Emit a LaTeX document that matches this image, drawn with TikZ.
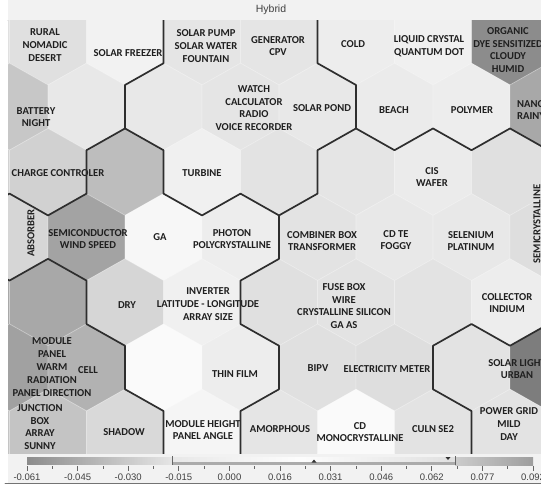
\documentclass[tikz,border=0pt]{standalone}
\usepackage{fontspec}
\newfontfamily\lblfont{Carlito}[BoldFont={Carlito Bold}]
\newfontfamily\barfont{Liberation Sans}
\begin{document}
\begin{tikzpicture}[x=1pt,y=-1pt,line join=round,line cap=round,
  lbl/.style={font=\lblfont\bfseries\fontsize{10.6}{12.8}\selectfont,align=center,text=black!88,inner sep=0pt},
  hexcell/.style={draw=white,draw opacity=0.25,line width=0.8pt},
  border/.style={draw=black!82,line width=1.7pt},
  barlbl/.style={font=\barfont\fontsize{9.5}{11}\selectfont,text=black!75,inner sep=0pt},
  tickmark/.style={draw=black!60,line width=0.7pt,line cap=butt}]
\def\hexw{77}
\def\hexhw{38.5}
\def\hexhh{21.75}
\def\hextop{43.5}
\def\rowdy{65.2}
\useasboundingbox (0,0) rectangle (541,485);
\fill[white] (0,0) rectangle (541,485);
\fill[black!5] (8,0) rectangle (541,20);
\draw[black!30,line width=0.8pt] (8,20) -- (541,20);
\node[font=\barfont\fontsize{10.5}{12}\selectfont,text=black!75] (title) at (271,10) {Hybrid};
\fill[black!5] (8,453) rectangle (541,483);
\begin{scope}
\clip (8,20) rectangle (541,453);
\fill[black!10] (8,20) rectangle (541,453);
\foreach \r/\i/\k in {1/-1/12,1/0/12,1/1/5,1/2/10,1/3/10,1/4/7,1/5/6,1/6/45,
    2/0/22,2/1/9,2/2/9,2/3/10,2/4/9,2/5/8,2/6/7,2/7/34,
    3/-1/18,3/0/18,3/1/26,3/2/6,3/3/11,3/4/10,3/5/8,3/6/12,
    4/0/16,4/1/36,4/2/3,4/3/7,4/4/11,4/5/9,4/6/9,4/7/13,
    5/-1/34,5/0/34,5/1/16,5/2/6,5/3/12,5/4/11,5/5/11,5/6/7,
    6/0/37,6/1/30,6/2/2,6/3/7,6/4/12,6/5/13,6/6/11,6/7/51,
    7/-1/23,7/0/23,7/1/15,7/2/4,7/3/10,7/4/2,7/5/11,7/6/11}{
  \pgfmathsetmacro\cx{9.5+38.5*mod(\r,2)+\hexw*\i}
  \pgfmathsetmacro\cy{41.5+\rowdy*(\r-1)}
  \filldraw[hexcell,fill=black!\k] (\cx,\cy) +(0,-\hextop) -- +(\hexhw,-\hexhh) -- +(\hexhw,\hexhh)
    -- +(0,\hextop) -- +(-\hexhw,\hexhh) -- +(-\hexhw,-\hexhh) -- cycle;
}
\node[lbl] (rural) at (45,45) {RURAL\\NOMADIC\\DESERT};
\node[lbl] (freezer) at (128,53) {SOLAR FREEZER};
\node[lbl] (pump) at (206,46) {SOLAR PUMP\\SOLAR WATER\\FOUNTAIN};
\node[lbl] (generator) at (278,46) {GENERATOR\\CPV};
\node[lbl] (cold) at (353,44) {COLD};
\node[lbl] (liquid) at (429,46) {LIQUID CRYSTAL\\QUANTUM DOT};
\node[lbl] (organic) at (508,50) {ORGANIC\\DYE SENSITIZED\\CLOUDY\\HUMID};
\node[lbl] (battery) at (36,117) {BATTERY\\NIGHT};
\node[lbl] (watch) at (254,108) {WATCH\\CALCULATOR\\RADIO\\VOICE RECORDER};
\node[lbl] (pond) at (322,108) {SOLAR POND};
\node[lbl] (beach) at (394,110) {BEACH};
\node[lbl] (polymer) at (472,110) {POLYMER};
\node[lbl] (nano) at (531,110) {NANO\\RAINY};
\node[lbl] (charge) at (58,173) {CHARGE CONTROLER};
\node[lbl] (turbine) at (202,173) {TURBINE};
\node[lbl] (cis) at (432,177) {CIS\\WAFER};
\node[lbl,rotate=90] (absorber) at (31,233) {ABSORBER};
\node[lbl] (semicond) at (88,239) {SEMICONDUCTOR\\WIND SPEED};
\node[lbl] (ga) at (160,237) {GA};
\node[lbl] (photon) at (232,239) {PHOTON\\POLYCRYSTALLINE};
\node[lbl] (combiner) at (322,241) {COMBINER BOX\\TRANSFORMER};
\node[lbl] (cdte) at (396,240) {CD TE\\FOGGY};
\node[lbl] (selenium) at (471,241) {SELENIUM\\PLATINUM};
\node[lbl,rotate=90] (semicryst) at (537,224) {SEMICRYSTALLINE};
\node[lbl] (dry) at (127,305) {DRY};
\node[lbl] (inverter) at (208,304) {INVERTER\\LATITUDE - LONGITUDE\\ARRAY SIZE};
\node[lbl] (fusebox) at (344,306) {FUSE BOX\\WIRE\\CRYSTALLINE SILICON\\GA AS};
\node[lbl] (collector) at (507,303) {COLLECTOR\\INDIUM};
\node[lbl] (module) at (52,367) {MODULE\\PANEL\\WARM\\RADIATION\\PANEL DIRECTION};
\node[lbl] (cell) at (88,370) {CELL};
\node[lbl] (thinfilm) at (235,374) {THIN FILM};
\node[lbl] (bipv) at (318,368) {BIPV};
\node[lbl] (meter) at (387,369) {ELECTRICITY METER};
\node[lbl] (solarlight) at (517,369) {SOLAR LIGHT\\URBAN};
\node[lbl] (junction) at (40,427) {JUNCTION\\BOX\\ARRAY\\SUNNY};
\node[lbl] (shadow) at (124,432) {SHADOW};
\node[lbl] (height) at (203,430) {MODULE HEIGHT\\PANEL ANGLE};
\node[lbl] (amorphous) at (280,429) {AMORPHOUS};
\node[lbl] (cdmono) at (360,432) {CD\\MONOCRYSTALLINE};
\node[lbl] (culn) at (433,429) {CULN SE2};
\node[lbl] (powergrid) at (509,424) {POWER GRID\\MILD\\DAY};
\draw[border] (-29,215.4) -- (9.5,193.6) -- (48,215.4) -- (86.5,193.65) -- (86.5,150.2)
  -- (125,128.45) -- (125,85) -- (163.5,63.25) -- (163.5,0);
\draw[border] (125,128.45) -- (163.5,150.2) -- (163.5,193.65) -- (202,215.4) -- (240.5,193.65)
  -- (279,215.4) -- (317.5,193.65) -- (317.5,150.2) -- (356,128.45) -- (356,85)
  -- (317.5,63.25) -- (317.5,0);
\draw[border] (356,128.45) -- (394.5,150.2) -- (433,128.45) -- (471.5,150.2) -- (510,128.45)
  -- (548.5,150.2);
\draw[border] (279,215.4) -- (279,258.85) -- (240.5,280.6) -- (240.5,324.05) -- (279,345.75)
  -- (279,389.25) -- (240.5,411) -- (240.5,460);
\draw[border] (-29,258.8) -- (9.5,280.55) -- (48,258.8) -- (86.5,280.55) -- (86.5,324.05)
  -- (125,345.75) -- (125,389.25) -- (163.5,411) -- (163.5,460);
\draw[border] (471.5,460) -- (471.5,411) -- (433,389.25) -- (433,345.75) -- (471.5,324)
  -- (510,345.75) -- (548.5,324);
\end{scope}
\shade[left color=black!45,right color=black!10] (27,457) rectangle (172,464.5);
\shade[left color=black!9,right color=black!1] (172,457) rectangle (300,461.5);
\shade[left color=black!1,right color=black!12] (300,457) rectangle (455,461.5);
\fill[black!33] (172,461.5) rectangle (455,464.5);
\shade[left color=black!20,right color=black!38] (455,457) rectangle (533,465);
\draw[tickmark] (172,456) -- (172,464.5) (455,456) -- (455,464.5);
\fill[black!80] (314,459.5) -- (316.5,462.5) -- (311.5,462.5) -- cycle;
\fill[black!80] (445.5,457) -- (450.5,457) -- (448,460) -- cycle;
\foreach \v [count=\n from 0] in {-0.061,-0.045,-0.030,-0.015,0.000,0.016,0.031,0.046,0.062,0.077,0.092}{
  \draw[tickmark] (27+50.6*\n,466) -- ++(0,5);
  \node[barlbl] (val\n) at (27+50.6*\n,477) {\v};
}
\foreach \n in {0,...,9}
  \draw[tickmark] (52.3+50.6*\n,466) -- ++(0,2.5);
\draw[black!55,line width=0.9pt] (5,483) -- (541,483);
\end{tikzpicture}
\end{document}
